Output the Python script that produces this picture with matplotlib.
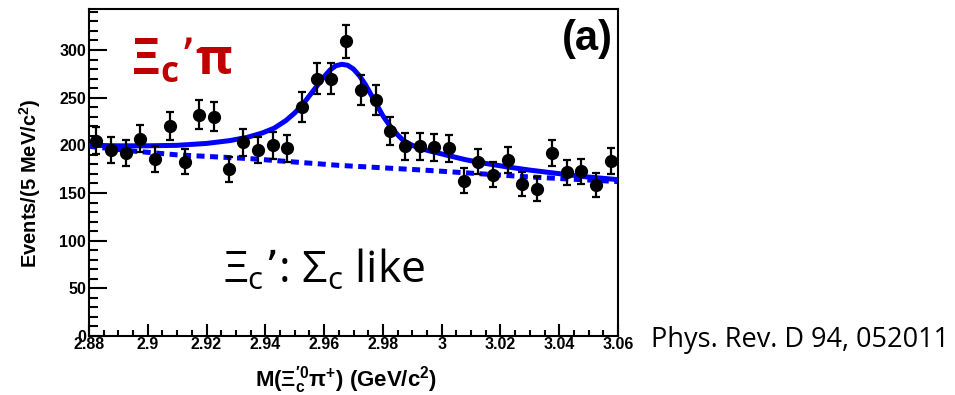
import numpy as np
import matplotlib
matplotlib.use("Agg")
import matplotlib.pyplot as plt
from matplotlib.ticker import MultipleLocator

# data points: 5 MeV bins from 2.88 to 3.06 GeV
bin_centers = [2.8825 + 0.005 * i for i in range(36)]
events = [205, 195, 192, 207, 186, 220, 183, 232, 230, 175,
          203, 195, 200, 197, 240, 270, 270, 309, 258, 248,
          215, 199, 199, 198, 197, 163, 183, 169, 185, 159,
          154, 192, 172, 173, 158, 184]

# fit curve (signal + background)
fit_mass = [2.880, 2.890, 2.900, 2.910, 2.920, 2.928, 2.934, 2.939, 2.943,
            2.947, 2.950, 2.953, 2.9555, 2.958, 2.960, 2.962, 2.964, 2.966,
            2.968, 2.970, 2.972, 2.974, 2.976, 2.978, 2.980, 2.9825, 2.985,
            2.987, 2.990, 2.9925, 2.996, 3.000, 3.004, 3.008, 3.015, 3.022,
            3.030, 3.038, 3.049, 3.060]
fit_total = [200, 199.5, 199.5, 200, 202, 205, 208.5, 213, 218,
             226, 234, 244, 254, 264, 272, 279, 283.5, 285,
             284, 280, 273, 264, 253, 242, 231, 220, 211,
             205, 200, 197, 194, 191, 188, 185, 181, 177.5,
             174, 171, 167, 164]

# background component
bkg_mass = [2.880, 2.895, 2.910, 2.935, 2.965, 2.994, 3.029, 3.060]
bkg_total = [199, 194, 190, 186, 179, 174, 167, 162]

W, H = 955, 395
fig = plt.figure(figsize=(W / 100, H / 100), dpi=100)
ax = fig.add_axes([89 / W, 1 - 336 / H, (618 - 89) / W, (336 - 9) / H])

blue = "#0000ff"
ax.plot(bkg_mass, bkg_total, color=blue, lw=3.6, ls=(0, (1.6, 1.1)), zorder=2)
ax.plot(fit_mass, fit_total, color=blue, lw=3.6, solid_capstyle="round",
        solid_joinstyle="round", zorder=3)

ev = np.array(events, dtype=float)
ax.errorbar(bin_centers, ev, yerr=np.sqrt(ev), fmt="o", color="black",
            ms=8.5, elinewidth=1.6, capsize=2.9, capthick=1.6, zorder=4)

ax.set_xlim(2.88, 3.06)
ax.set_ylim(0, 343)

for side in ["left", "bottom", "right", "top"]:
    ax.spines[side].set_linewidth(1.5)

ax.xaxis.set_major_locator(MultipleLocator(0.02))
ax.xaxis.set_minor_locator(MultipleLocator(0.005))
ax.yaxis.set_major_locator(MultipleLocator(50))
ax.yaxis.set_minor_locator(MultipleLocator(10))
ax.tick_params(which="both", direction="in", top=False, right=False, width=1.5)
ax.tick_params(axis="y", which="major", length=13, labelsize=11.5, pad=2)
ax.tick_params(axis="y", which="minor", length=6.5)
ax.tick_params(axis="x", which="major", length=9, labelsize=11.5, pad=1)
ax.tick_params(axis="x", which="minor", length=4.5)
ax.set_xticks([2.88, 2.9, 2.92, 2.94, 2.96, 2.98, 3.0, 3.02, 3.04, 3.06])
ax.set_xticklabels(["2.88", "2.9", "2.92", "2.94", "2.96", "2.98", "3",
                    "3.02", "3.04", "3.06"])
for lab in ax.get_xticklabels() + ax.get_yticklabels():
    lab.set_fontfamily("Liberation Sans")
    lab.set_fontweight("bold")

fig.text(30 / W, 1 - 183 / H, r"Events/(5 MeV/c$^\mathregular{2}$)",
         rotation=90, ha="center", va="center", fontsize=14.5,
         fontweight="bold", family="Liberation Sans")
fig.text(346 / W, 1 - 380 / H,
         r"M(Ξ$_\mathregular{c}^\mathregular{′0}$π$^\mathregular{+}$) (GeV/c$^\mathregular{2}$)",
         ha="center", va="center", fontsize=16, fontweight="bold",
         family="Liberation Sans")

fig.text(613 / W, 1 - 39 / H, "(a)", ha="right", va="center", fontsize=30,
         fontweight="bold", family="Liberation Sans")

fig.text(131 / W, 1 - 62 / H, r"Ξ$_\mathregular{c}$’π", ha="left", va="center",
         fontsize=36, fontweight="bold", family="Open Sans", color="#c00000")

fig.text(223 / W, 1 - 271 / H, r"Ξ$_\mathregular{c}$’: Σ$_\mathregular{c}$ like",
         ha="left", va="center", fontsize=32, family="Open Sans", color="black")

fig.text(651 / W, 1 - 340 / H, "Phys. Rev. D 94, 052011", ha="left",
         va="center", fontsize=19.5, family="Open Sans", color="black")

fig.savefig("out.png", dpi=100)
